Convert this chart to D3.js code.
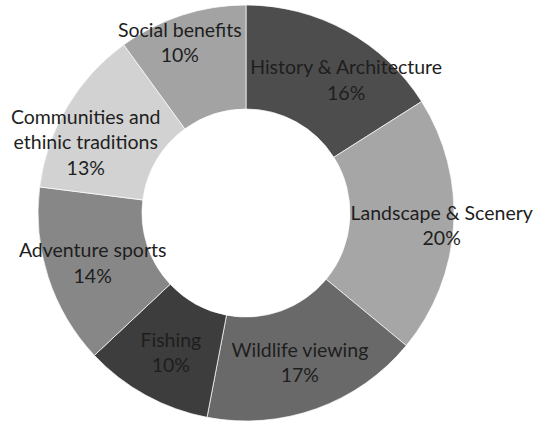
<!DOCTYPE html>
<html>
<head>
<meta charset="utf-8">
<script src="https://cdn.jsdelivr.net/npm/d3@7"></script>
<style>
  html, body { margin: 0; padding: 0; background: #ffffff; }
  svg { display: block; }
  .lbl { font-family: Lato, "Open Sans", sans-serif; fill: #1e1e1e; }
</style>
</head>
<body>
<svg id="chart" width="540" height="422"></svg>
<script>
// Share of visitor motivations (percent), clockwise from 12 o'clock
const categories = [
  "History & Architecture",
  "Landscape & Scenery",
  "Wildlife viewing",
  "Fishing",
  "Adventure sports",
  "Communities and ethinic traditions",
  "Social benefits"
];
const values = [16, 20, 17, 10, 14, 13, 10];
// Label text split into lines
const labelLines = [
  ["History & Architecture"],
  ["Landscape & Scenery"],
  ["Wildlife viewing"],
  ["Fishing"],
  ["Adventure sports"],
  ["Communities and", "ethinic traditions"],
  ["Social benefits"]
];

// Styling / layout
const sliceColors = ["#4d4d4d", "#a6a6a6", "#696969", "#3d3d3d", "#878787", "#d2d2d2", "#a3a3a3"];
// nudges applied to each label relative to the slice centroid
const labelNudge = [[25, 4], [40, 3], [1, 3], [0, 3], [-5, 2], [-26, 9], [-18, -22]];

const cx = 246, cy = 213, outerR = 208, innerR = 104;
const fontSize = 19.5, lineH = 25.5, capH = 13.5;

const svg = d3.select("#chart");
const g = svg.append("g").attr("transform", `translate(${cx},${cy})`);

const rows = categories.map((c, i) => ({ cat: c, value: values[i], i }));

const pie = d3.pie().sort(null).value(d => d.value);
const arc = d3.arc().innerRadius(innerR).outerRadius(outerR);
const midArc = d3.arc().innerRadius((innerR + outerR) / 2).outerRadius((innerR + outerR) / 2);

const arcs = pie(rows);

g.selectAll("path.slice")
  .data(arcs)
  .join("path")
  .attr("class", "slice")
  .attr("d", arc)
  .attr("fill", d => sliceColors[d.data.i])
  .attr("stroke", "#ffffff")
  .attr("stroke-width", 0.7);

const labels = g.selectAll("text.lbl")
  .data(arcs)
  .join("text")
  .attr("class", "lbl")
  .attr("text-anchor", "middle")
  .attr("font-size", fontSize);

labels.each(function(d) {
  const [mx, my] = midArc.centroid(d);
  const [nx, ny] = labelNudge[d.data.i];
  const lines = labelLines[d.data.i].concat([d.data.value + "%"]);
  const x = mx + nx;
  const firstBase = my + ny - (lines.length - 1) * lineH / 2 + capH / 2;
  const t = d3.select(this);
  lines.forEach((s, k) => {
    t.append("tspan").attr("x", x).attr("y", firstBase + k * lineH).text(s);
  });
});
</script>
</body>
</html>
